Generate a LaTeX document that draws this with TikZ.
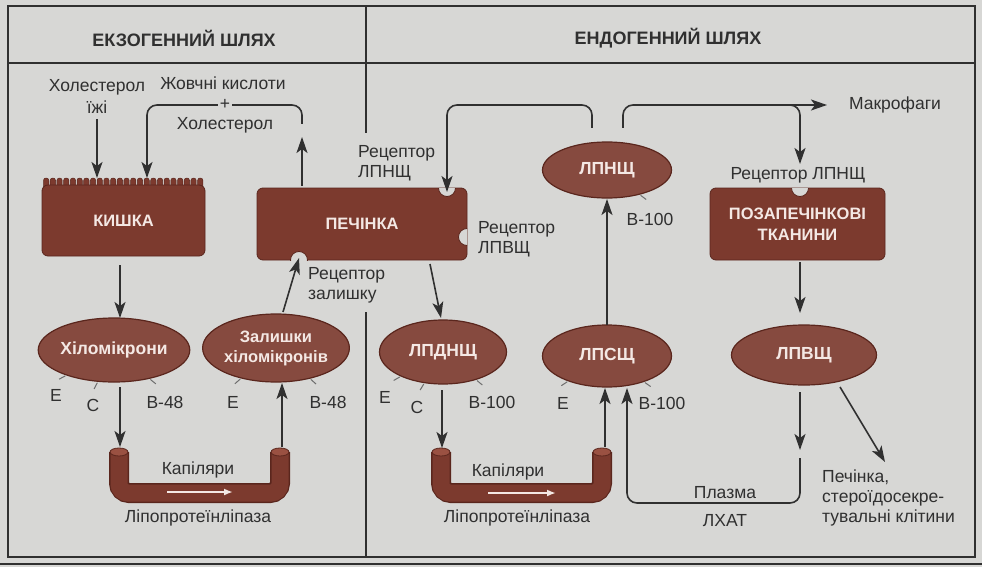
\documentclass[tikz,border=0pt]{standalone}
\usepackage{fontspec}
\setmainfont{Liberation Sans}
\usetikzlibrary{arrows.meta,shapes.geometric,calc}
\definecolor{bg}{HTML}{D7D7D5}
\definecolor{brn}{HTML}{7C3A2E}
\definecolor{brnd}{HTML}{5A261D}
\definecolor{brnl}{HTML}{9A5142}
\definecolor{ln}{HTML}{303030}
\definecolor{wt}{HTML}{F4E8E4}
\definecolor{tk}{HTML}{6E6E6E}
\newcommand\lptick[2]{\draw[tick] ($(#1.#2)!-1pt!(#1.center)$) -- ($(#1.#2)!-8pt!(#1.center)$);}
\begin{document}
\begin{tikzpicture}[x=1pt,y=-1pt,
  lbl/.style={font=\fontsize{17.5}{20}\selectfont, text=ln, inner sep=0pt, align=center},
  lbll/.style={lbl, align=left, anchor=west},
  hdr/.style={font=\bfseries\fontsize{18}{20}\selectfont, text=ln, inner sep=0pt},
  organ/.style={rectangle, rounded corners=6pt, fill=brn, draw=brnd, line width=0.8pt, text=wt, font=\bfseries\fontsize{16.5}{21}\selectfont, align=center, inner sep=0pt},
  lp/.style={ellipse, fill=brn!92!white, draw=brnd, line width=1.2pt, text=wt, font=\bfseries\fontsize{17.5}{20}\selectfont, align=center, inner sep=0pt},
  arr/.style={draw=ln, line width=1.6pt, rounded corners=10pt, -{Stealth[length=16pt,width=11pt,inset=4pt]}},
  con/.style={draw=ln, line width=1.6pt, rounded corners=10pt},
  frm/.style={draw=ln, line width=1.3pt},
  tick/.style={draw=tk, line width=1pt},
  wtarr/.style={draw=wt, line width=2pt, -{Latex[length=9pt,width=7pt]}},
]
\fill[bg] (0,0) rectangle (982,567);
\useasboundingbox (0,0) rectangle (982,567);
\draw[ln, line width=2pt] (0,564) -- (982,564);

% frame
\draw[frm] (8,6) rectangle (975,557);
\draw[frm] (8,63) -- (975,63);
\draw[frm] (366,6) -- (366,133);
\draw[frm] (366,312) -- (366,557);

\node[hdr] (hdrA) at (184,38) {ЕКЗОГЕННИЙ ШЛЯХ};
\node[hdr] (hdrB) at (668,38) {ЕНДОГЕННИЙ ШЛЯХ};

% capillaries
\foreach \xa/\xb in {119/280, 441/602}{
  \draw[brnd, line width=20pt, rounded corners=10pt] (\xa,452) -- (\xa,493) -- (\xb,493) -- (\xb,452);
  \draw[brn, line width=17pt, rounded corners=9pt] (\xa,452) -- (\xa,493) -- (\xb,493) -- (\xb,452);
  \filldraw[fill=brnl, draw=brnd, line width=0.8pt] (\xa,452) ellipse (9 and 4);
  \filldraw[fill=brnl, draw=brnd, line width=0.8pt] (\xb,452) ellipse (9 and 4);
}
\coordinate (wa1) at (167,492); \coordinate (wa2) at (233,492);
\coordinate (wb1) at (488,493); \coordinate (wb2) at (556,493);
\draw[wtarr] (wa1) -- (wa2);
\draw[wtarr] (wb1) -- (wb2);
\node[lbl] (kapA) at (198,470) {Капіляри};
\node[lbl] (kapB) at (508,472) {Капіляри};
\node[lbl] (lplA) at (198,518) {Ліпопротеїнліпаза};
\node[lbl] (lplB) at (517,518) {Ліпопротеїнліпаза};

% intestine villi
\foreach \i in {0,...,23}{
  \filldraw[fill=brn, draw=brnd, line width=0.5pt, rounded corners=2.5pt] ({43.5+\i*6.7},190) rectangle ({48.8+\i*6.7},178);
}
\node[organ, minimum width=163pt, minimum height=71pt] (kishka) at (123.5,220.5) {КИШКА};
\node[organ, minimum width=210pt, minimum height=72pt] (liver) at (362,224) {ПЕЧІНКА};
\node[organ, minimum width=175pt, minimum height=72pt] (tissue) at (797.5,224) {ПОЗАПЕЧІНКОВІ\\ТКАНИНИ};

% notches
\begin{scope}
  \clip (257,188) rectangle (467,260);
  \filldraw[fill=bg, draw=brnd, line width=0.8pt] (447,188) circle (8.5);
  \filldraw[fill=bg, draw=brnd, line width=0.8pt] (467,237) circle (8.5);
  \filldraw[fill=bg, draw=brnd, line width=0.8pt] (299,260) circle (8.5);
\end{scope}
\begin{scope}
  \clip (710,188) rectangle (885,260);
  \filldraw[fill=bg, draw=brnd, line width=0.8pt] (800,188) circle (8.5);
\end{scope}

% lipoproteins
\node[lp, minimum width=142pt, minimum height=64pt] (hilo) at (114,350) {Хіломікрони};
\node[lp, minimum width=142pt, minimum height=68pt, font=\bfseries\fontsize{16.5}{20}\selectfont] (zal) at (276,348) {Залишки\\хіломікронів};
\node[lp, minimum width=127pt, minimum height=64pt] (lpdn) at (443,352) {ЛПДНЩ};
\node[lp, minimum width=129pt, minimum height=62pt] (lpsn) at (607,356) {ЛПСЩ};
\node[lp, minimum width=129pt, minimum height=56pt] (lpnn) at (607,170) {ЛПНЩ};
\node[lp, minimum width=145pt, minimum height=60pt] (lpvn) at (804,355) {ЛПВЩ};

% ticks
\lptick{hilo}{208} \lptick{hilo}{243} \lptick{hilo}{321}
\lptick{zal}{221} \lptick{zal}{318}
\lptick{lpdn}{210} \lptick{lpdn}{239} \lptick{lpdn}{320}
\lptick{lpsn}{213} \lptick{lpsn}{325}
\lptick{lpnn}{323}

% apoprotein labels
\node[lbl] (hE) at (56,395) {E};
\node[lbl] (hC) at (93,405) {C};
\node[lbl] (hB) at (165,402) {B-48};
\node[lbl] (zE) at (233,402) {E};
\node[lbl] (zB) at (328,402) {B-48};
\node[lbl] (dE) at (385,397) {E};
\node[lbl] (dC) at (417,407) {C};
\node[lbl] (dB) at (492,402) {B-100};
\node[lbl] (sE) at (563,403) {E};
\node[lbl] (sB) at (662,403) {B-100};
\node[lbl] (nB) at (650,219) {B-100};

% text labels
\node[lbl, font=\fontsize{17.5}{22}\selectfont] (chol) at (97,96) {Холестерол\\їжі};
\node[lbl] (bile) at (223,83) {Жовчні кислоти};
\node[lbl] (chol2) at (225,125) {Холестерол};
\node[lbll] (rec1) at (358,163) {Рецептор\\ЛПНЩ};
\node[lbll] (rec2) at (478,239) {Рецептор\\ЛПВЩ};
\node[lbll] (rec3) at (308,285) {Рецептор\\залишку};
\node[lbl] (rec4) at (798,175) {Рецептор ЛПНЩ};
\node[lbl] (mac) at (895,105) {Макрофаги};
\node[lbl] (plasma) at (725,493) {Плазма};
\node[lbl] (lhat) at (725,521) {ЛХАТ};
\node[lbll] (liv2) at (822,498) {Печінка,\\стероїдосекре-\\тувальні клітини};

% connectors
\draw[arr] (chol.south |- 0,119) -- (chol.south |- 0,178);
\draw[arr] (302,124) -- (302,105) -- (147,105) -- (147,178);
\node[lbl, fill=bg, inner sep=2pt] (plus) at (225,104) {+};
\draw[arr] (liver.north -| 302,0) ++(0,-2) -- (302,137);
\draw[arr] ([xshift=-3.5pt,yshift=-9pt]kishka.south) -- (120,318);
\draw[arr] (120,387) -- (120,447);
\draw[arr] (282,447) -- (282,383);
\draw[arr] (283,312) -- (299,258);
\draw[arr] (430,264) -- (441,318);
\draw[arr] (442,390) -- (442,448);
\draw[arr] (605,447) -- (605,388);
\draw[arr] (607,325) -- (607,199);
\draw[arr] (592,128) -- (592,105) -- (447,105) -- (447,192);
\draw[con] (623,128) -- (623,105) -- (800,105) -- (800,130);
\draw[arr] (790,105) -- (mac.west -| 827,0);
\draw[arr] (800,125) -- (800,164);
\draw[arr] (tissue.south -| 800,0) ++(0,2) -- (800,313);
\draw[arr] (800,392) -- (800,450);
\draw[arr] (800,458) -- (800,503) -- (627,503) -- (627,388);
\draw[arr] (840,387) -- (885,462);
\end{tikzpicture}
\end{document}
